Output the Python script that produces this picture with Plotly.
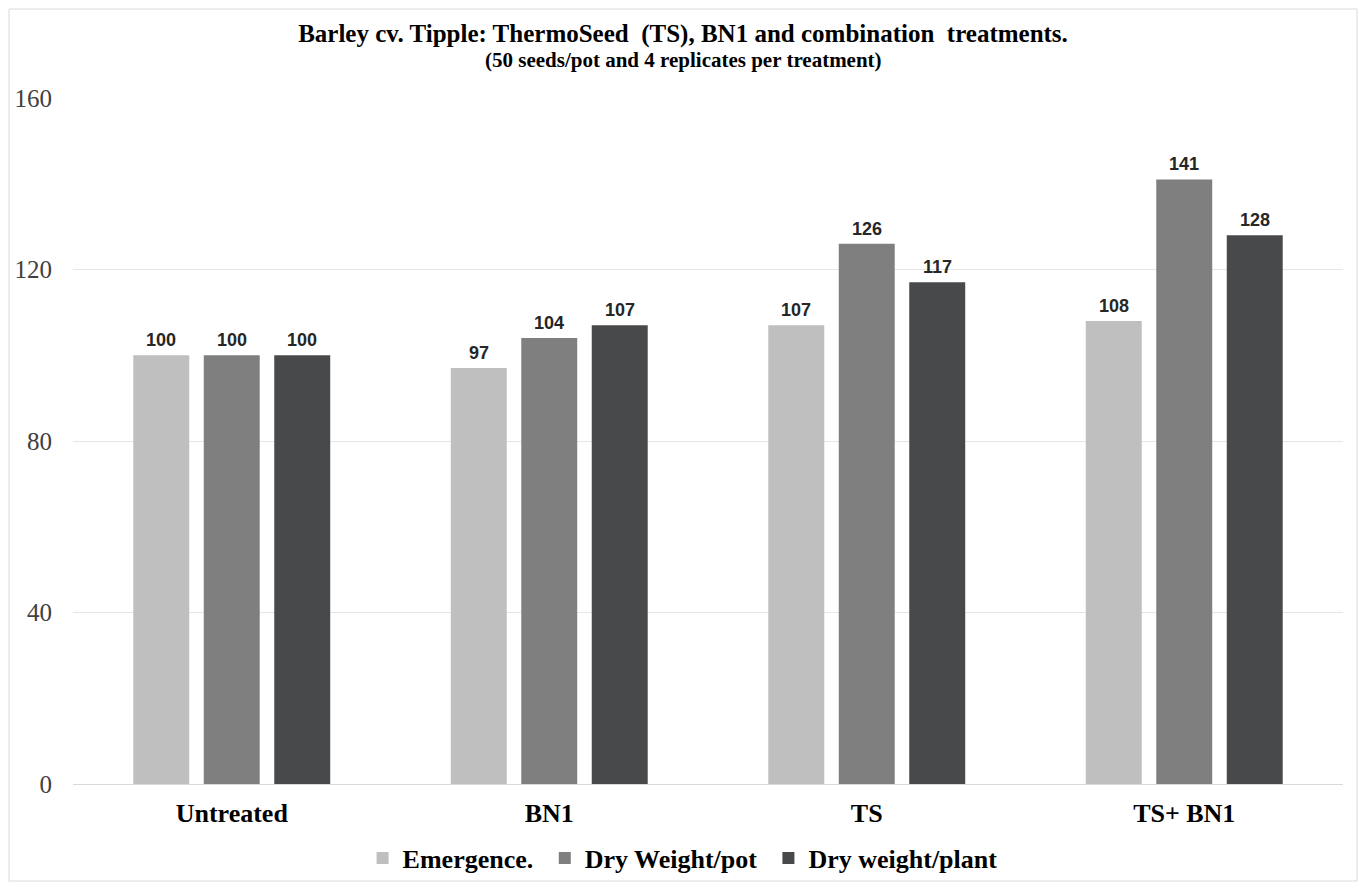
import plotly.graph_objects as go

categories = ["Untreated", "BN1", "TS", "TS+ BN1"]
series_names = ["Emergence.", "Dry Weight/pot", "Dry weight/plant"]
emergence = [100, 97, 107, 108]
dry_weight_pot = [100, 104, 126, 141]
dry_weight_plant = [100, 107, 117, 128]
y_ticks = [0, 40, 80, 120, 160]

title_text = "Barley cv. Tipple: ThermoSeed  (TS), BN1 and combination  treatments."
subtitle_text = "(50 seeds/pot and 4 replicates per treatment)"

colors = ["#BFBFBF", "#7F7F7F", "#48494B"]
values = [emergence, dry_weight_pot, dry_weight_plant]

W, H = 1350, 874
ML, MR, MT, MB = 65, 15, 90, 98
plot_w = W - ML - MR
plot_h = H - MT - MB
bargap, bargroupgap = 0.334, 0.206
slot_px = plot_w / len(categories) * (1 - bargap) / len(series_names)

fig = go.Figure()
for k, (name, vals, col) in enumerate(zip(series_names, values, colors)):
    pad = "\u00a0" if k < len(series_names) - 1 else ""
    fig.add_trace(go.Bar(
        x=categories, y=vals, name="<b>" + name + "</b>" + pad,
        marker=dict(color=col, line=dict(width=0)),
    ))

annotations = []
for i, vals in enumerate(values):
    for cat, v in zip(categories, vals):
        annotations.append(dict(
            x=cat, y=v, xref="x", yref="y", text="<b>" + str(v) + "</b>",
            showarrow=False, xanchor="center", yanchor="bottom",
            xshift=(i - 1) * slot_px, yshift=3,
            font=dict(family="Liberation Sans", size=18, color="#262626"),
        ))

annotations.append(dict(
    x=0.5, xref="paper", y=1 + 38 / plot_h, yref="paper",
    text="<b>" + subtitle_text + "</b>", showarrow=False,
    xanchor="center", yanchor="middle",
    xshift=(W / 2 - (ML + plot_w / 2)),
    font=dict(family="Liberation Serif", size=21, color="#000000"),
))

fig.update_layout(
    width=W, height=H,
    paper_bgcolor="white", plot_bgcolor="white",
    margin=dict(l=ML, r=MR, t=MT, b=MB, autoexpand=False),
    barmode="group", bargap=bargap, bargroupgap=bargroupgap,
    annotations=annotations,
    title=dict(
        text="<b>" + title_text + "</b>",
        x=0.5, xref="container", xanchor="center",
        y=1 - 25 / H, yref="container", yanchor="middle",
        font=dict(family="Liberation Serif", size=25, color="#000000"),
    ),
    yaxis=dict(
        range=[0, 160], tickvals=y_ticks,
        showgrid=True, gridcolor="#E6E6E6", gridwidth=1,
        zeroline=True, zerolinecolor="#D9D9D9", zerolinewidth=1,
        showline=False, ticks="",
        tickfont=dict(family="Liberation Serif", size=25, color="#404040"),
        ticklabelstandoff=20,
    ),
    xaxis=dict(
        showline=True, linecolor="#D9D9D9", linewidth=1,
        showgrid=False, ticks="",
        tickfont=dict(family="Liberation Serif", size=26, color="#000000"),
        tickprefix="<b>", ticksuffix="</b>",
        ticklabelstandoff=6,
    ),
    legend=dict(
        orientation="h", x=0.48, xanchor="center", xref="paper",
        y=-0.108, yanchor="middle", yref="paper",
        font=dict(family="Liberation Serif", size=26, color="#000000"),
        traceorder="normal", itemwidth=30, bgcolor="rgba(0,0,0,0)",
    ),
    showlegend=True,
)

fig.add_shape(type="rect", xref="paper", yref="paper",
              x0=-(ML - 1) / plot_w, x1=1 + (MR - 1) / plot_w,
              y0=-(MB - 1) / plot_h, y1=1 + (MT - 1) / plot_h,
              line=dict(color="#D9D9D9", width=1), fillcolor="rgba(0,0,0,0)", layer="below")

fig.write_html("out.html")
